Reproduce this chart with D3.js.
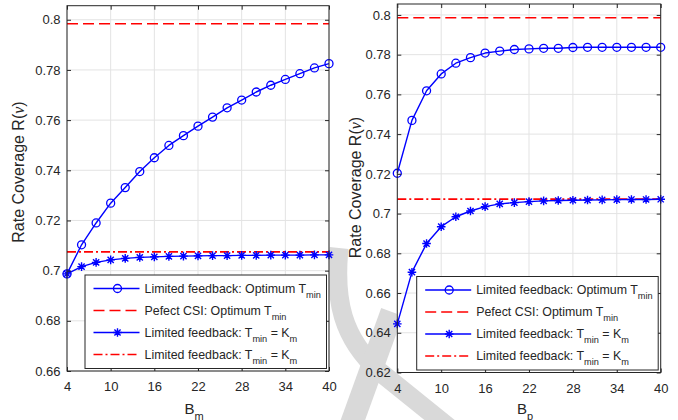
<!DOCTYPE html>
<html>
<head>
<meta charset="utf-8">
<script src="https://cdn.jsdelivr.net/npm/d3@7"></script>
<style>
  body { margin: 0; background: #fff; }
  svg { display: block; }
  text { font-family: "Liberation Sans", Arial, Helvetica, sans-serif; fill: #262626; }
</style>
</head>
<body>
<svg id="chart" width="678" height="420"></svg>
<script>
// Feedback bits on the x axis
const bits = [4, 6, 8, 10, 12, 14, 16, 18, 20, 22, 24, 26, 28, 30, 32, 34, 36, 38, 40];
const xTicks = [4, 10, 16, 22, 28, 34, 40];

// Left panel: rate coverage versus B_m
const bmOptimum = [0.6987, 0.7103, 0.7190, 0.7269, 0.7331, 0.7395, 0.7450, 0.7499, 0.7538, 0.7576,
                   0.7612, 0.7649, 0.7680, 0.7712, 0.7739, 0.7762, 0.7785, 0.7808, 0.7825];
const bmFixed   = [0.6987, 0.7016, 0.7033, 0.7043, 0.7049, 0.7053, 0.7055, 0.7057, 0.7058, 0.7059,
                   0.7060, 0.7060, 0.7061, 0.7061, 0.7062, 0.7062, 0.7062, 0.7063, 0.7063];
const bmPerfectOptimum = 0.7984;
const bmPerfectFixed = 0.7075;
const bmYTicks = [0.66, 0.68, 0.70, 0.72, 0.74, 0.76, 0.78, 0.80];

// Right panel: rate coverage versus B_p
const bpOptimum = [0.7203, 0.7469, 0.7618, 0.7703, 0.7757, 0.7785, 0.7808, 0.7818, 0.7826, 0.7829,
                   0.7832, 0.7832, 0.7836, 0.7837, 0.7837, 0.7837, 0.7837, 0.7837, 0.7837];
const bpFixed   = [0.6445, 0.6705, 0.6849, 0.6934, 0.6984, 0.7013, 0.7035, 0.7049, 0.7055, 0.7060,
                   0.7064, 0.7066, 0.7067, 0.7068, 0.7069, 0.7070, 0.7071, 0.7071, 0.7072];
const bpPerfectOptimum = 0.7986;
const bpPerfectFixed = 0.7073;
const bpYTicks = [0.62, 0.64, 0.66, 0.68, 0.70, 0.72, 0.74, 0.76, 0.78, 0.80];

const legendRows = [
  { kind: "optimum", parts: [["Limited feedback: Optimum T", false], ["min", true]] },
  { kind: "perfectOpt", parts: [["Pefect CSI: Optimum T", false], ["min", true]] },
  { kind: "fixed", parts: [["Limited feedback: T", false], ["min", true], [" = K", false], ["m", true]] },
  { kind: "perfectFixed", parts: [["Limited feedback: T", false], ["min", true], [" = K", false], ["m", true]] }
];

const BLUE = "#0000ff", RED = "#ff0000", INK = "#262626", GRID = "#e3e3e3";

const svg = d3.select("#chart");

// soft grey strokes sitting underneath both panels
const backdrop = svg.append("g").attr("fill", "none").attr("stroke", "#d9d9d9");
backdrop.append("path").attr("d", "M339,248 C334,300 342,338 380,372 L452,430").attr("stroke-width", 19);
backdrop.append("path").attr("d", "M392,312 L350,428").attr("stroke-width", 23);

const panels = [
  { x0: 67, x1: 329, yTop: 5.7, yBot: 371, yMin: 0.66, yMax: 0.8056, yTicks: bmYTicks,
    optimum: bmOptimum, fixed: bmFixed, perfectOpt: bmPerfectOptimum, perfectFixed: bmPerfectFixed,
    xSub: "m", yLabelX: 18, yLabelY: 172 },
  { x0: 397.3, x1: 660.7, yTop: 4, yBot: 372.5, yMin: 0.62, yMax: 0.8055, yTicks: bpYTicks,
    optimum: bpOptimum, fixed: bpFixed, perfectOpt: bpPerfectOptimum, perfectFixed: bpPerfectFixed,
    xSub: "p", yLabelX: 355, yLabelY: 187.5 }
];

const fmt = d => String(+d.toFixed(2));

function starPath(r) {
  const a = r * 0.72;
  return `M0,${-r}V${r}M${-r},0H${r}M${-a},${-a}L${a},${a}M${-a},${a}L${a},${-a}`;
}

function drawMarker(g, kind, x, y) {
  if (kind === "optimum") {
    g.append("circle").attr("cx", x).attr("cy", y).attr("r", 4)
      .attr("fill", "none").attr("stroke", BLUE).attr("stroke-width", 1.3);
  } else if (kind === "fixed") {
    g.append("path").attr("transform", `translate(${x},${y})`).attr("d", starPath(4.3))
      .attr("fill", "none").attr("stroke", BLUE).attr("stroke-width", 1.4);
  }
}

const styles = {
  optimum: { color: BLUE, width: 1.4, dash: null },
  fixed: { color: BLUE, width: 1.4, dash: null },
  perfectOpt: { color: RED, width: 1.6, dash: "11,5" },
  perfectFixed: { color: RED, width: 1.6, dash: "9,3,2,3" }
};

panels.forEach(p => {
  const x = d3.scaleLinear().domain([4, 40]).range([p.x0, p.x1]);
  const y = d3.scaleLinear().domain([p.yMin, p.yMax]).range([p.yBot, p.yTop]);
  const w = p.x1 - p.x0, h = p.yBot - p.yTop;
  const g = svg.append("g");

  // plotting area
  g.append("rect").attr("x", p.x0).attr("y", p.yTop).attr("width", w).attr("height", h).attr("fill", "#fff");

  // grid
  const grid = g.append("g").attr("stroke", GRID).attr("stroke-width", 1);
  xTicks.forEach(t => grid.append("line").attr("x1", x(t)).attr("x2", x(t)).attr("y1", p.yTop).attr("y2", p.yBot));
  p.yTicks.forEach(t => grid.append("line").attr("x1", p.x0).attr("x2", p.x1).attr("y1", y(t)).attr("y2", y(t)));

  // reference levels with perfect CSI
  [["perfectOpt", p.perfectOpt], ["perfectFixed", p.perfectFixed]].forEach(([k, v]) => {
    const s = styles[k];
    g.append("line").attr("x1", x(4)).attr("x2", x(40)).attr("y1", y(v)).attr("y2", y(v))
      .attr("stroke", s.color).attr("stroke-width", s.width).attr("stroke-dasharray", s.dash);
  });

  // limited-feedback curves
  const line = d3.line().x((d, i) => x(bits[i])).y(d => y(d));
  [["optimum", p.optimum], ["fixed", p.fixed]].forEach(([k, vals]) => {
    const s = styles[k];
    g.append("path").datum(vals).attr("d", line).attr("fill", "none")
      .attr("stroke", s.color).attr("stroke-width", s.width).attr("stroke-linejoin", "round");
    const mg = g.append("g");
    vals.forEach((v, i) => drawMarker(mg, k, x(bits[i]), y(v)));
  });

  // axes with inward ticks on all four sides
  const styleAxis = sel => {
    sel.select(".domain").remove();
    sel.selectAll(".tick line").attr("stroke", INK);
    sel.selectAll(".tick text").attr("fill", INK).style("font-size", "13px")
      .style("font-family", '"Liberation Sans", Arial, sans-serif');
  };
  g.append("g").attr("transform", `translate(0,${p.yBot})`)
    .call(d3.axisBottom(x).tickValues(xTicks).tickSizeInner(-4).tickSizeOuter(0).tickPadding(11).tickFormat(d3.format("d")))
    .call(styleAxis);
  g.append("g").attr("transform", `translate(0,${p.yTop})`)
    .call(d3.axisTop(x).tickValues(xTicks).tickSizeInner(-4).tickSizeOuter(0).tickFormat(""))
    .call(styleAxis);
  g.append("g").attr("transform", `translate(${p.x0},0)`)
    .call(d3.axisLeft(y).tickValues(p.yTicks).tickSizeInner(-4).tickSizeOuter(0).tickPadding(6.5).tickFormat(fmt))
    .call(styleAxis);
  g.append("g").attr("transform", `translate(${p.x1},0)`)
    .call(d3.axisRight(y).tickValues(p.yTicks).tickSizeInner(-4).tickSizeOuter(0).tickFormat(""))
    .call(styleAxis);
  g.append("rect").attr("x", p.x0).attr("y", p.yTop).attr("width", w).attr("height", h)
    .attr("fill", "none").attr("stroke", INK).attr("stroke-width", 1);

  // axis titles
  const xl = g.append("text").attr("x", (p.x0 + p.x1) / 2 - 4).attr("y", 414)
    .attr("text-anchor", "middle").style("font-size", "15px");
  xl.append("tspan").text("B");
  xl.append("tspan").attr("dy", 5.5).style("font-size", "11px").text(p.xSub);

  const yl = g.append("text").attr("transform", `translate(${p.yLabelX},${p.yLabelY}) rotate(-90)`)
    .attr("text-anchor", "middle").attr("dy", "0.35em").style("font-size", "16px");
  yl.append("tspan").text("Rate Coverage R(");
  yl.append("tspan").style("font-family", '"Liberation Serif", "DejaVu Serif", serif')
    .style("font-style", "italic").text("v");
  yl.append("tspan").text(")");

  // legend
  const lw = 241.5, lh = 93.5;
  const lx = p.x1 - 2.5 - lw, ly = p.yBot - 2.5 - lh;
  const lg = g.append("g");
  lg.append("rect").attr("x", lx).attr("y", ly).attr("width", lw).attr("height", lh)
    .attr("fill", "#fff").attr("stroke", INK).attr("stroke-width", 1);
  legendRows.forEach((row, i) => {
    const ry = ly + 13.5 + i * 22;
    const s = styles[row.kind];
    lg.append("line").attr("x1", lx + 8.5).attr("x2", lx + 54.5).attr("y1", ry).attr("y2", ry)
      .attr("stroke", s.color).attr("stroke-width", s.width).attr("stroke-dasharray", s.dash);
    drawMarker(lg, row.kind, lx + 32.5, ry);
    const t = lg.append("text").attr("x", lx + 59.5).attr("y", ry + 4.3).style("font-size", "12.4px");
    let shifted = false;
    row.parts.forEach(([str, sub]) => {
      const ts = t.append("tspan").text(str);
      if (sub && !shifted) { ts.attr("dy", 4.8).style("font-size", "9.2px"); shifted = true; }
      else if (!sub && shifted) { ts.attr("dy", -4.8); shifted = false; }
      else if (sub) { ts.style("font-size", "9.2px"); }
    });
  });
});
</script>
</body>
</html>
